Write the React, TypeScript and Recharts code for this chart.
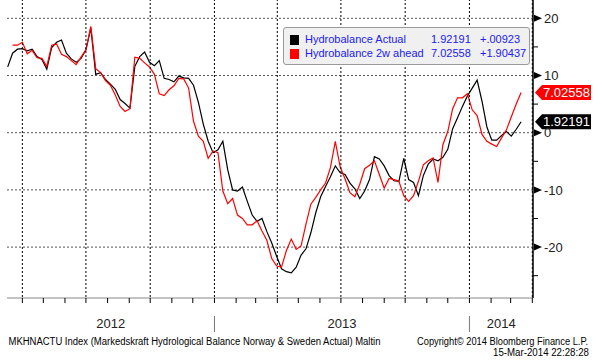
import { LineChart, Line, XAxis, YAxis, CartesianGrid, ReferenceDot } from "recharts";

// weekly readings, first week starting 2012-03-11
const weekStart = [2012, 3, 11];

const actual = [
    11.5, 13.9, 14.6, 14.7, 14.3, 14.6, 13.3, 12.8, 11.1, 14.9,
    15.8, 16.2, 13.9, 12.9, 12.3, 13.0, 14.5, 18.3, 10.2, 10.5,
    9.3, 8.5, 7.6, 5.8, 5.1, 4.3, 11.6, 13.3, 14.1, 12.3,
    11.7, 12.6, 9.5, 9.3, 8.9, 9.9, 9.6, 9.5, 8.3, 5.3,
    1.5, -1.5, -3.5, -3.0, -1.5, -6.5, -10.0, -10.2, -9.5, -12.0,
    -14.4, -15.5, -15.0, -17.3, -19.3, -21.6, -23.8, -24.3, -24.5, -23.5,
    -21.4, -20.3, -17.5, -14.0, -11.2, -9.4, -7.7, -5.8, -7.0, -7.3,
    -8.8, -9.8, -11.5, -10.2, -8.2, -4.2, -4.6, -5.8, -7.5, -8.4,
    -8.5, -4.5, -8.2, -8.7, -11.0, -7.5, -5.5, -4.6, -4.9, -4.3,
    -2.9, 0.7, 2.6, 4.6, 6.4, 7.8, 9.2, 5.5, 1.0, -1.3,
    -1.3, -0.5, 0.2, -0.6, 0.6, 1.92191,
];

const ahead = [
    null, 15.3, 15.3, 15.8, 13.8, 14.4, 13.1, 13.0, 11.6, 15.3,
    15.5, 13.7, 13.3, 12.6, 11.9, 13.2, 14.5, 18.6, 11.2, 10.5,
    9.1, 8.3, 6.6, 4.6, 3.7, 4.2, 13.2, 13.0, 12.2, 11.5,
    10.2, 6.8, 6.5, 7.5, 8.2, 9.5, 9.4, 7.8, 2.0, -0.6,
    -1.5, -4.5, -3.2, -3.5, -10.2, -12.4, -11.5, -14.4, -15.0, -16.1,
    -16.1, -15.4, -17.2, -18.8, -22.0, -23.3, -23.5, -20.6, -18.6, -20.4,
    -19.8, -16.0, -12.5, -11.3, -10.0, -8.8, -6.1, -1.5, -6.0, -8.1,
    -10.5, -11.2, -9.0, -6.3, -5.7, -4.9, -7.3, -9.7, -8.0, -8.2,
    -8.5, -11.0, -12.0, -11.0, -8.5, -5.6, -4.9, -4.4, -8.7, -2.1,
    0.2, 4.2, 6.1, 6.1, 6.8, 4.0, 3.0, -0.3, -1.5, -2.0,
    -2.4, -0.9, 0.5, 2.8, 5.0, 7.02558,
];

const seriesNames = ["Hydrobalance Actual", "Hydrobalance 2w ahead"];
const seriesColors = ["#000000", "#ff0000"];
const lastValues = ["1.92191", "7.02558"];
const changes = ["+.00923", "+1.90437"];

const yMajor = [20, 10, 0, -10, -20];
const yMinor = [15, 5, -5, -15, -25];
const years = [2012, 2013, 2014];

const footerLeft = "MKHNACTU Index (Markedskraft Hydrological Balance Norway & Sweden Actual) Maltin";
const footerRight = "Copyright\u00a9 2014 Bloomberg Finance L.P.";
const footerDate = "15-Mar-2014 22:28:28";

// days relative to 2013-01-01
const dayOf = (y: number, m: number, d: number) =>
    (Date.UTC(y, m - 1, d) - Date.UTC(2013, 0, 1)) / 86400000;

const D_MIN = dayOf(2012, 3, 10);
const D_MAX = dayOf(2014, 4, 2);
const Y_DOMAIN = [-28.9, 23.2];
const PLOT_RIGHT = 533;
const PLOT_HEIGHT = 297;

const startDay = dayOf(weekStart[0], weekStart[1], weekStart[2]);
const data = actual.map((v, i) => ({ day: startDay + 7 * i, actual: v, ahead: ahead[i] }));
const lastRow = data[data.length - 1];

const monthTicks: number[] = [];
const quarterLines: number[] = [];
for (let y = 2012; y <= 2014; y++) {
    for (let m = 1; m <= 12; m++) {
        const d = dayOf(y, m, 1);
        if (d < D_MIN || d > D_MAX) continue;
        monthTicks.push(d);
        if ((m - 1) % 3 === 0) quarterLines.push(d);
    }
}

const yearSeparators = years.slice(1).map((y) => dayOf(y, 1, 1));
const yearLabels = years.map((y) => ({
    label: String(y),
    day: (Math.max(D_MIN, dayOf(y, 1, 1)) + Math.min(D_MAX, dayOf(y + 1, 1, 1))) / 2,
}));

const FONT = "'Liberation Sans', Arial, sans-serif";

const YTick = ({ x, y, payload }: any) => {
    if (!yMajor.includes(payload.value)) {
        return <line x1={x} x2={x + 5} y1={y} y2={y} stroke="#000" />;
    }
    return (
        <g>
            <polygon points={`${x + 1},${y - 3.5} ${x + 9},${y} ${x + 1},${y + 3.5}`} fill="#000" />
            <text x={x + 11} y={y} dy="0.36em" fontSize={13} fontFamily={FONT} fill="#222">
                {payload.value}
            </text>
        </g>
    );
};

const YearTick = ({ x, y, payload }: any) => {
    if (yearSeparators.includes(payload.value)) {
        return <line x1={x} x2={x} y1={y} y2={y + 16} stroke="#777" />;
    }
    const item = yearLabels.find((l) => l.day === payload.value);
    return (
        <text x={x} y={y + 12} textAnchor="middle" fontSize={13} fontFamily={FONT} fill="#222">
            {item ? item.label : ""}
        </text>
    );
};

const flag = (color: string, text: string) => (props: any) => {
    const cy = props.cy;
    const x0 = PLOT_RIGHT + 2;
    return (
        <g>
            <polygon
                points={`${x0},${cy} ${x0 + 7},${cy - 7.5} ${x0 + 56},${cy - 7.5} ${x0 + 56},${cy + 7.5} ${x0 + 7},${cy + 7.5}`}
                fill={color}
            />
            <text x={x0 + 8} y={cy} dy="0.36em" fontSize={13} fontFamily={FONT} fill="#fff">
                {text}
            </text>
        </g>
    );
};

function LegendBox() {
    return (
        <div
            style={{
                position: "absolute",
                left: 283,
                top: 27,
                width: 245,
                height: 36,
                background: "#f0f0f0",
                border: "1px solid #999",
                borderRadius: 3,
                fontFamily: FONT,
                fontSize: 11,
                color: "#2020f0",
            }}
        >
            {seriesNames.map((name, i) => (
                <div key={name} style={{ position: "absolute", top: 6 + i * 13.5, left: 6, height: 12, width: 240 }}>
                    <div style={{ position: "absolute", left: 0, top: 1, width: 9, height: 10, background: seriesColors[i] }} />
                    <span style={{ position: "absolute", left: 15, top: -1 }}>{name}</span>
                    <span style={{ position: "absolute", left: 141, top: -1 }}>{lastValues[i]}</span>
                    <span style={{ position: "absolute", left: 190, top: -1 }}>{changes[i]}</span>
                </div>
            ))}
        </div>
    );
}

export default function App() {
    return (
        <div style={{ position: "relative", width: 602, height: 361, background: "#fff" }}>
            <style>{"body{margin:0}"}</style>
            <LineChart width={602} height={361} data={data} margin={{ top: 0, right: 9, left: 7, bottom: 3 }}>
                <CartesianGrid vertical={false} horizontalValues={yMajor} stroke="#555" strokeDasharray="2 2" />
                {/* quarter gridlines: mirrored top axis whose ticks run down the plot */}
                <XAxis
                    xAxisId="grid"
                    orientation="top"
                    mirror
                    type="number"
                    dataKey="day"
                    domain={[D_MIN, D_MAX]}
                    allowDataOverflow
                    ticks={quarterLines}
                    interval={0}
                    height={1}
                    tickSize={PLOT_HEIGHT}
                    tick={() => <g />}
                    axisLine={false}
                    tickLine={{ stroke: "#000", strokeDasharray: "2 2" }}
                />
                <XAxis
                    type="number"
                    dataKey="day"
                    domain={[D_MIN, D_MAX]}
                    allowDataOverflow
                    ticks={monthTicks}
                    interval={0}
                    height={18}
                    tickSize={5}
                    tick={() => <g />}
                    axisLine={{ stroke: "#888" }}
                    tickLine={{ stroke: "#000" }}
                />
                <XAxis
                    xAxisId="year"
                    type="number"
                    dataKey="day"
                    domain={[D_MIN, D_MAX]}
                    allowDataOverflow
                    ticks={[...yearLabels.map((l) => l.day), ...yearSeparators]}
                    interval={0}
                    height={42}
                    tickSize={0}
                    tickMargin={0}
                    axisLine={false}
                    tickLine={false}
                    tick={YearTick}
                />
                <YAxis
                    orientation="right"
                    width={60}
                    domain={Y_DOMAIN}
                    allowDataOverflow
                    ticks={[...yMajor, ...yMinor].sort((a, b) => b - a)}
                    interval={0}
                    tickSize={0}
                    tickMargin={0}
                    tickLine={false}
                    axisLine={{ stroke: "#000", strokeWidth: 1.5 }}
                    tick={YTick}
                />
                <Line
                    dataKey="actual"
                    name={seriesNames[0]}
                    stroke={seriesColors[0]}
                    strokeWidth={1.2}
                    dot={false}
                    type="linear"
                    isAnimationActive={false}
                />
                <Line
                    dataKey="ahead"
                    name={seriesNames[1]}
                    stroke={seriesColors[1]}
                    strokeWidth={1.2}
                    dot={false}
                    type="linear"
                    isAnimationActive={false}
                />
                <ReferenceDot
                    x={lastRow.day}
                    y={lastRow.ahead as number}
                    r={0}
                    shape={flag(seriesColors[1], lastValues[1])}
                />
                <ReferenceDot
                    x={lastRow.day}
                    y={lastRow.actual}
                    r={0}
                    shape={flag(seriesColors[0], lastValues[0])}
                />
            </LineChart>
            <LegendBox />
            <svg width={602} height={361} style={{ position: "absolute", left: 0, top: 0, pointerEvents: "none" }}>
                <text x={8.5} y={345} fontSize={10} fontFamily={FONT} textLength={372} lengthAdjust="spacingAndGlyphs">
                    {footerLeft}
                </text>
                <text x={417} y={345} fontSize={10} fontFamily={FONT} textLength={171} lengthAdjust="spacingAndGlyphs">
                    {footerRight}
                </text>
                <text x={493} y={356} fontSize={10} fontFamily={FONT} textLength={96} lengthAdjust="spacingAndGlyphs">
                    {footerDate}
                </text>
            </svg>
        </div>
    );
}
